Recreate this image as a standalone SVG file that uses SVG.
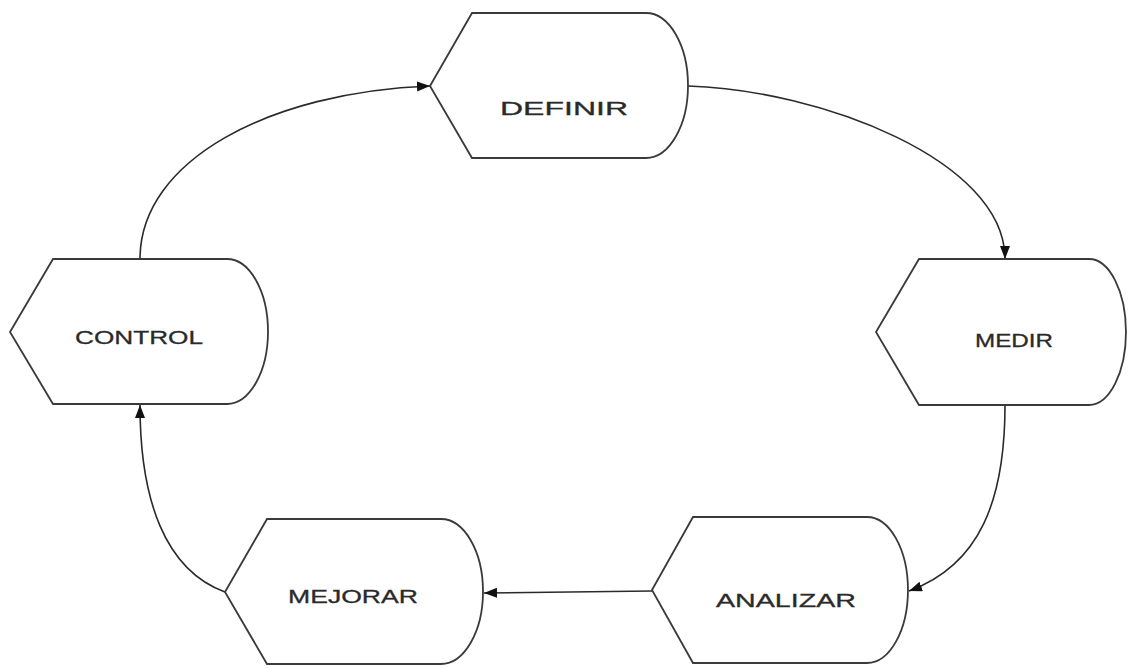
<svg xmlns="http://www.w3.org/2000/svg" width="1128" height="668" viewBox="0 0 1128 668">
<style>
.shape{fill:#fff;stroke:#3a3a3a;stroke-width:1.8}
.lbl{font-family:"Liberation Sans",Arial,sans-serif;font-size:19px;fill:#2a2a2a;stroke:#2a2a2a;stroke-width:0.3}
.conn{fill:none;stroke:#2a2a2a;stroke-width:1.6}
</style>
<defs>
<marker id="arr" markerUnits="userSpaceOnUse" markerWidth="14" markerHeight="12" refX="13" refY="5" orient="auto">
<path d="M0,0 L13,5 L0,10 z" fill="#111"/>
</marker>
</defs>
<rect width="1128" height="668" fill="#fff"/>
<g id="connectors">
<path class="conn" d="M688,86 C820,90 1005,160 1005,259" marker-end="url(#arr)"/>
<path class="conn" d="M1005,405 C1005,500 980,565 909,591" marker-end="url(#arr)"/>
<path class="conn" d="M652,591 L484,593" marker-end="url(#arr)"/>
<path class="conn" d="M225,592 C165,570 140,500 140,405" marker-end="url(#arr)"/>
<path class="conn" d="M140,259 C140,160 270,92 430,86" marker-end="url(#arr)"/>
</g>
<g id="definir">
<path class="shape" d="M430,86 L472,13 L646,13 A42 72.5 0 0 1 646,158 L472,158 Z"/>
<text class="lbl" x="500" y="115" textLength="128" lengthAdjust="spacingAndGlyphs">DEFINIR</text>
</g>
<g id="medir">
<path class="shape" d="M876,332 L919,259 L1089,259 A37 73 0 0 1 1089,405 L919,405 Z"/>
<text class="lbl" x="975" y="347" textLength="78" lengthAdjust="spacingAndGlyphs">MEDIR</text>
</g>
<g id="analizar">
<path class="shape" d="M652,590 L693,517 L867,517 A41 73 0 0 1 867,663 L693,663 Z"/>
<text class="lbl" x="716" y="607" textLength="140" lengthAdjust="spacingAndGlyphs">ANALIZAR</text>
</g>
<g id="mejorar">
<path class="shape" d="M225,592 L267,519 L441,519 A42 72.5 0 0 1 441,664 L267,664 Z"/>
<text class="lbl" x="288" y="603" textLength="130" lengthAdjust="spacingAndGlyphs">MEJORAR</text>
</g>
<g id="control">
<path class="shape" d="M10,332 L53,259 L227,259 A41 72.5 0 0 1 227,404 L53,404 Z"/>
<text class="lbl" x="75" y="344" textLength="128" lengthAdjust="spacingAndGlyphs">CONTROL</text>
</g>
</svg>
